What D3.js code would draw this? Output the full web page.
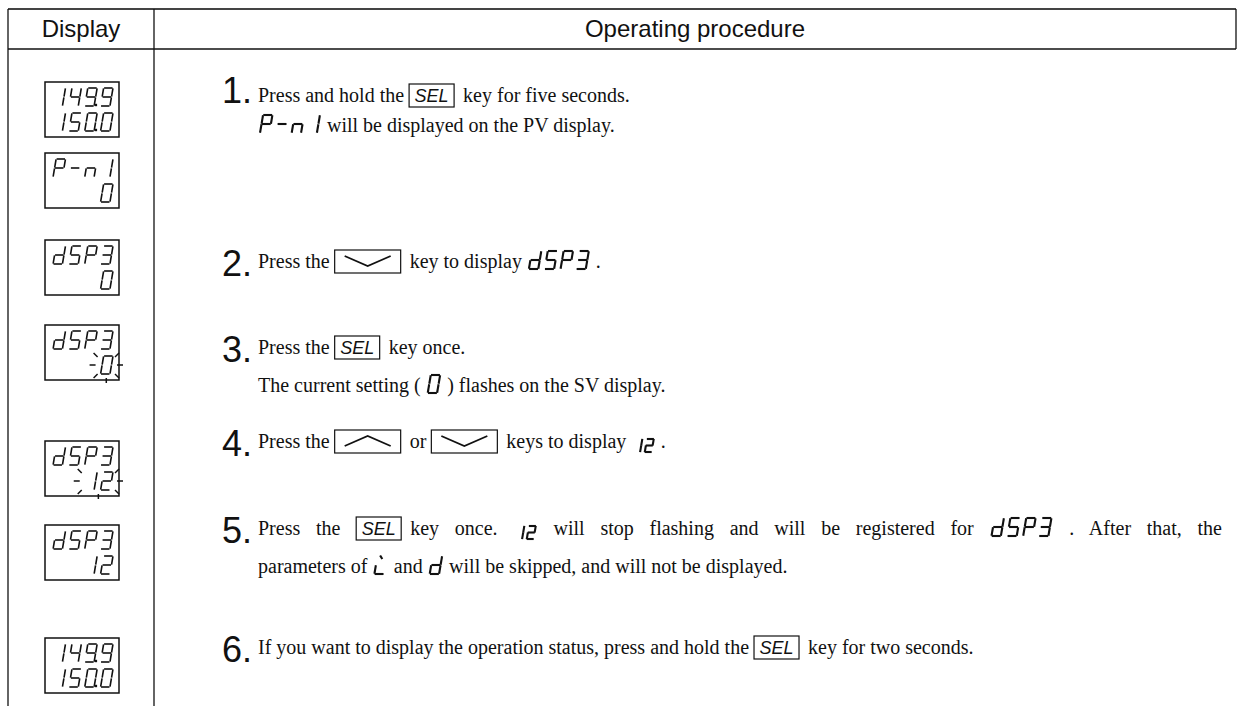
<!DOCTYPE html>
<html><head><meta charset="utf-8">
<script src="https://cdn.jsdelivr.net/npm/d3@7"></script>
<style>
body{margin:0;background:#fff}
svg{display:block}
text{white-space:pre}
.hdr{font-family:"Liberation Sans",Arial,sans-serif;font-size:24px;fill:#111}
.body{font-family:"Liberation Serif","Times New Roman",serif;font-size:20px;fill:#111}
.num{font-family:"Liberation Sans",Arial,sans-serif;font-size:36px;fill:#111}
.keytxt{font-family:"Liberation Sans",Arial,sans-serif;font-size:18px;font-style:italic;fill:#111}
</style>
</head><body>
<svg id="c" width="1243" height="706"></svg>
<script>
// ---------- content ----------
const headers = ["Display", "Operating procedure"];
const pvReadings = ["149.9", "P-n1", "dSP3", "dSP3", "dSP3", "dSP3", "149.9"];
const svReadings = ["150.0", "0", "0", "0", "12", "12", "150.0"];
const svFlashing = [false, false, false, true, true, false, false];
const stepNumbers = ["1", "2", "3", "4", "5", "6"];
const stepLines = [
  [["Press and hold the ", {key: "SEL"}, "key for five seconds."],
   [{seg: "P-n1"}, " will be displayed on the PV display."]],
  [["Press the ", {key: "down"}, "key to display ", {seg: "dSP3"}, " ."]],
  [["Press the ", {key: "SEL"}, "key once."],
   ["The current setting ( ", {seg: "0"}, " ) flashes on the SV display."]],
  [["Press the ", {key: "up"}, "or ", {key: "down"}, "keys to display ", {seg: "12", small: true}, " ."]],
  [["Press the ", {key: "SEL"}, "key once. ", {seg: "12", small: true}, " will stop flashing and will be registered for ", {seg: "dSP3"}, " . After that, the"],
   ["parameters of ", {seg: "L"}, " and ", {seg: "d"}, " will be skipped, and will not be displayed."]],
  [["If you want to display the operation status, press and hold the ", {key: "SEL"}, "key for two seconds."]]
];
const justifiedLines = [[4, 0]]; // [step, line] set flush to the right margin

// ---------- layout ----------
const W = 1243, H = 706;
const tableLeft = 8, colDiv = 154, tableRight = 1236, tableTop = 9, headerBottom = 49;
const boxTop = [82, 153, 240, 325, 441, 525, 638];
const boxLeft = 45, boxW = 74, boxH = 55;
const stepBase = [102, 268, 354, 448, 535, 654];
const numDrop = [1, 8, 8, 8, 8, 8];
const lineGap = [30, 0, 38, 0, 38, 0];
const numX = 222, textX = 258, textRight = 1222;

const svg = d3.select("#c");
svg.append("rect").attr("width", W).attr("height", H).attr("fill", "#fff");

// table frame
const frame = svg.append("g").attr("stroke", "#111").attr("stroke-width", 1.3).attr("fill", "none");
frame.append("line").attr("x1", tableLeft).attr("x2", tableRight).attr("y1", tableTop).attr("y2", tableTop).attr("stroke", "#444").attr("stroke-width", 2);
frame.append("line").attr("x1", tableLeft).attr("x2", tableRight).attr("y1", headerBottom).attr("y2", headerBottom);
frame.append("line").attr("x1", tableLeft).attr("x2", tableLeft).attr("y1", tableTop).attr("y2", H);
frame.append("line").attr("x1", colDiv).attr("x2", colDiv).attr("y1", tableTop).attr("y2", H);
frame.append("line").attr("x1", tableRight).attr("x2", tableRight).attr("y1", tableTop).attr("y2", headerBottom);

svg.selectAll("text.hdr").data(headers).join("text").attr("class", "hdr")
  .attr("x", (d, i) => i === 0 ? (tableLeft + colDiv) / 2 : (colDiv + tableRight) / 2)
  .attr("y", 37).attr("text-anchor", "middle").text(d => d);

// ---------- seven segment ----------
const SEG = {'0':'abcdef','1':'bc','2':'abdeg','3':'abcdg','4':'bcfg','5':'acdfg','S':'acdfg','9':'abcdfg',
  'P':'abefg','-':'g','n':'ceg','d':'bcdeg','L':'de'};
function segGeom(h){ const w = h*0.52, sl = h*0.17, pitch = h*0.88; return {w, sl, pitch}; }
function segWidth(str, h){
  const {w, sl, pitch} = segGeom(h);
  const n = str.replace(/\./g, "").length;
  return (n-1)*pitch + w + sl;
}
function drawSeg(g, str, x0, yTop, h, sw){
  const {w, sl, pitch} = segGeom(h);
  const gap = h*0.07;
  let cx = x0, lastX = x0;
  const lines = [];
  const P = (ox, x, y) => [ox + x + (1 - y/h)*sl, yTop + y];
  for (const ch of str){
    if (ch === '.'){
      const p = P(lastX, w + h*0.1, h);
      g.append("rect").attr("x", p[0]-1.2).attr("y", p[1]-2.2).attr("width", 2.4).attr("height", 2.4).attr("fill", "#111");
      continue;
    }
    const segs = SEG[ch] || '';
    const defs = {
      a:[[gap,0],[w-gap,0]], b:[[w,gap],[w,h/2-gap]], c:[[w,h/2+gap],[w,h-gap]],
      d:[[gap,h],[w-gap,h]], e:[[0,h/2+gap],[0,h-gap]], f:[[0,gap],[0,h/2-gap]], g:[[gap,h/2],[w-gap,h/2]]
    };
    for (const s of segs){
      const [p1, p2] = defs[s];
      lines.push([P(cx, p1[0], p1[1]), P(cx, p2[0], p2[1])]);
    }
    if (ch === 'L') lines.push([P(cx, w*0.35, h*0.02), P(cx, w*0.5, h*0.12)]);
    lastX = cx; cx += pitch;
  }
  g.selectAll(null).data(lines).join("line")
    .attr("x1", d => d[0][0]).attr("y1", d => d[0][1]).attr("x2", d => d[1][0]).attr("y2", d => d[1][1])
    .attr("stroke", "#111").attr("stroke-width", sw).attr("stroke-linecap", "square");
}

// ---------- display boxes ----------
const disp = svg.append("g");
boxTop.forEach((top, i) => {
  const g = disp.append("g");
  g.append("rect").attr("x", boxLeft).attr("y", top).attr("width", boxW).attr("height", boxH)
    .attr("fill", "none").attr("stroke", "#111").attr("stroke-width", 1.5);
  const h = 18, right = boxLeft + boxW - 6;
  const pv = pvReadings[i], sv = svReadings[i];
  drawSeg(g, pv, right - segWidth(pv, h), top + 6, h, 1.6);
  const svX = right - segWidth(sv, h), svY = top + 31;
  drawSeg(g, sv, svX, svY, h, 1.6);
  if (svFlashing[i]){
    const x1 = svX - 2, x2 = right + 1, y1 = svY - 1, y2 = svY + h + 1, ym = (y1 + y2)/2, xm = (x1 + x2)/2;
    const rays = [
      [[x1-9, ym],[x1-3, ym]], [[x2+3, ym],[x2+9, ym]],
      [[xm, y2+3],[xm, y2+8]],
      [[x1-1, y1+2],[x1-5, y1-2]], [[x2+1, y1+2],[x2+5, y1-2]],
      [[x1-1, y2-1],[x1-5, y2+3]], [[x2+1, y2-1],[x2+5, y2+3]]
    ];
    g.selectAll(null).data(rays).join("line")
      .attr("x1", d => d[0][0]).attr("y1", d => d[0][1]).attr("x2", d => d[1][0]).attr("y2", d => d[1][1])
      .attr("stroke", "#111").attr("stroke-width", 1.5);
  }
});

// ---------- steps ----------
const stepsG = svg.append("g");
function drawKey(g, kind, x, base){
  const kw = kind === "SEL" ? 45 : 66, kh = 23, top = base - 18;
  g.append("rect").attr("x", x).attr("y", top).attr("width", kw).attr("height", kh)
    .attr("fill", "none").attr("stroke", "#111").attr("stroke-width", 1.2);
  if (kind === "SEL"){
    g.append("text").attr("class", "keytxt").attr("x", x + kw/2).attr("y", base).attr("text-anchor", "middle").text("SEL");
  } else {
    const yA = top + 6, yB = top + 16;
    const pts = kind === "down" ? [[x+10, yA],[x+kw/2, yB],[x+kw-10, yA]] : [[x+10, yB],[x+kw/2, yA],[x+kw-10, yB]];
    g.append("polyline").attr("points", pts.map(p => p.join(",")).join(" "))
      .attr("fill", "none").attr("stroke", "#111").attr("stroke-width", 1.8);
  }
  return kw + 9;
}
function drawLine(g, tokens, x, base, wordSpacing){
  let cx = x;
  tokens.forEach(tok => {
    if (typeof tok === "string"){
      const t = g.append("text").attr("class", "body").attr("x", cx).attr("y", base)
        .attr("xml:space", "preserve").style("word-spacing", wordSpacing + "px").text(tok);
      cx += t.node().getComputedTextLength();
    } else if (tok.key){
      cx += drawKey(g, tok.key, cx, base);
    } else if (tok.seg){
      const h = tok.small ? 13 : 18;
      const yTop = tok.small ? base - h + 4 : base - h + 1;
      drawSeg(g, tok.seg, cx + 2, yTop, h, 2.1);
      cx += segWidth(tok.seg, h) + 4;
    }
  });
  return cx;
}
stepNumbers.forEach((n, i) => {
  const g = stepsG.append("g");
  g.append("text").attr("class", "num").attr("x", numX).attr("y", stepBase[i] + numDrop[i]).text(n + ".");
  stepLines[i].forEach((line, j) => {
    const base = stepBase[i] + j * lineGap[i];
    const lg = g.append("g");
    const end = drawLine(lg, line, textX, base, 0);
    if (justifiedLines.some(d => d[0] === i && d[1] === j)){
      const spaces = line.filter(t => typeof t === "string").join("").split(" ").length - 1;
      const extra = (textRight - end) / spaces;
      lg.selectAll("*").remove();
      drawLine(lg, line, textX, base, extra);
    }
  });
});
</script>
</body></html>
